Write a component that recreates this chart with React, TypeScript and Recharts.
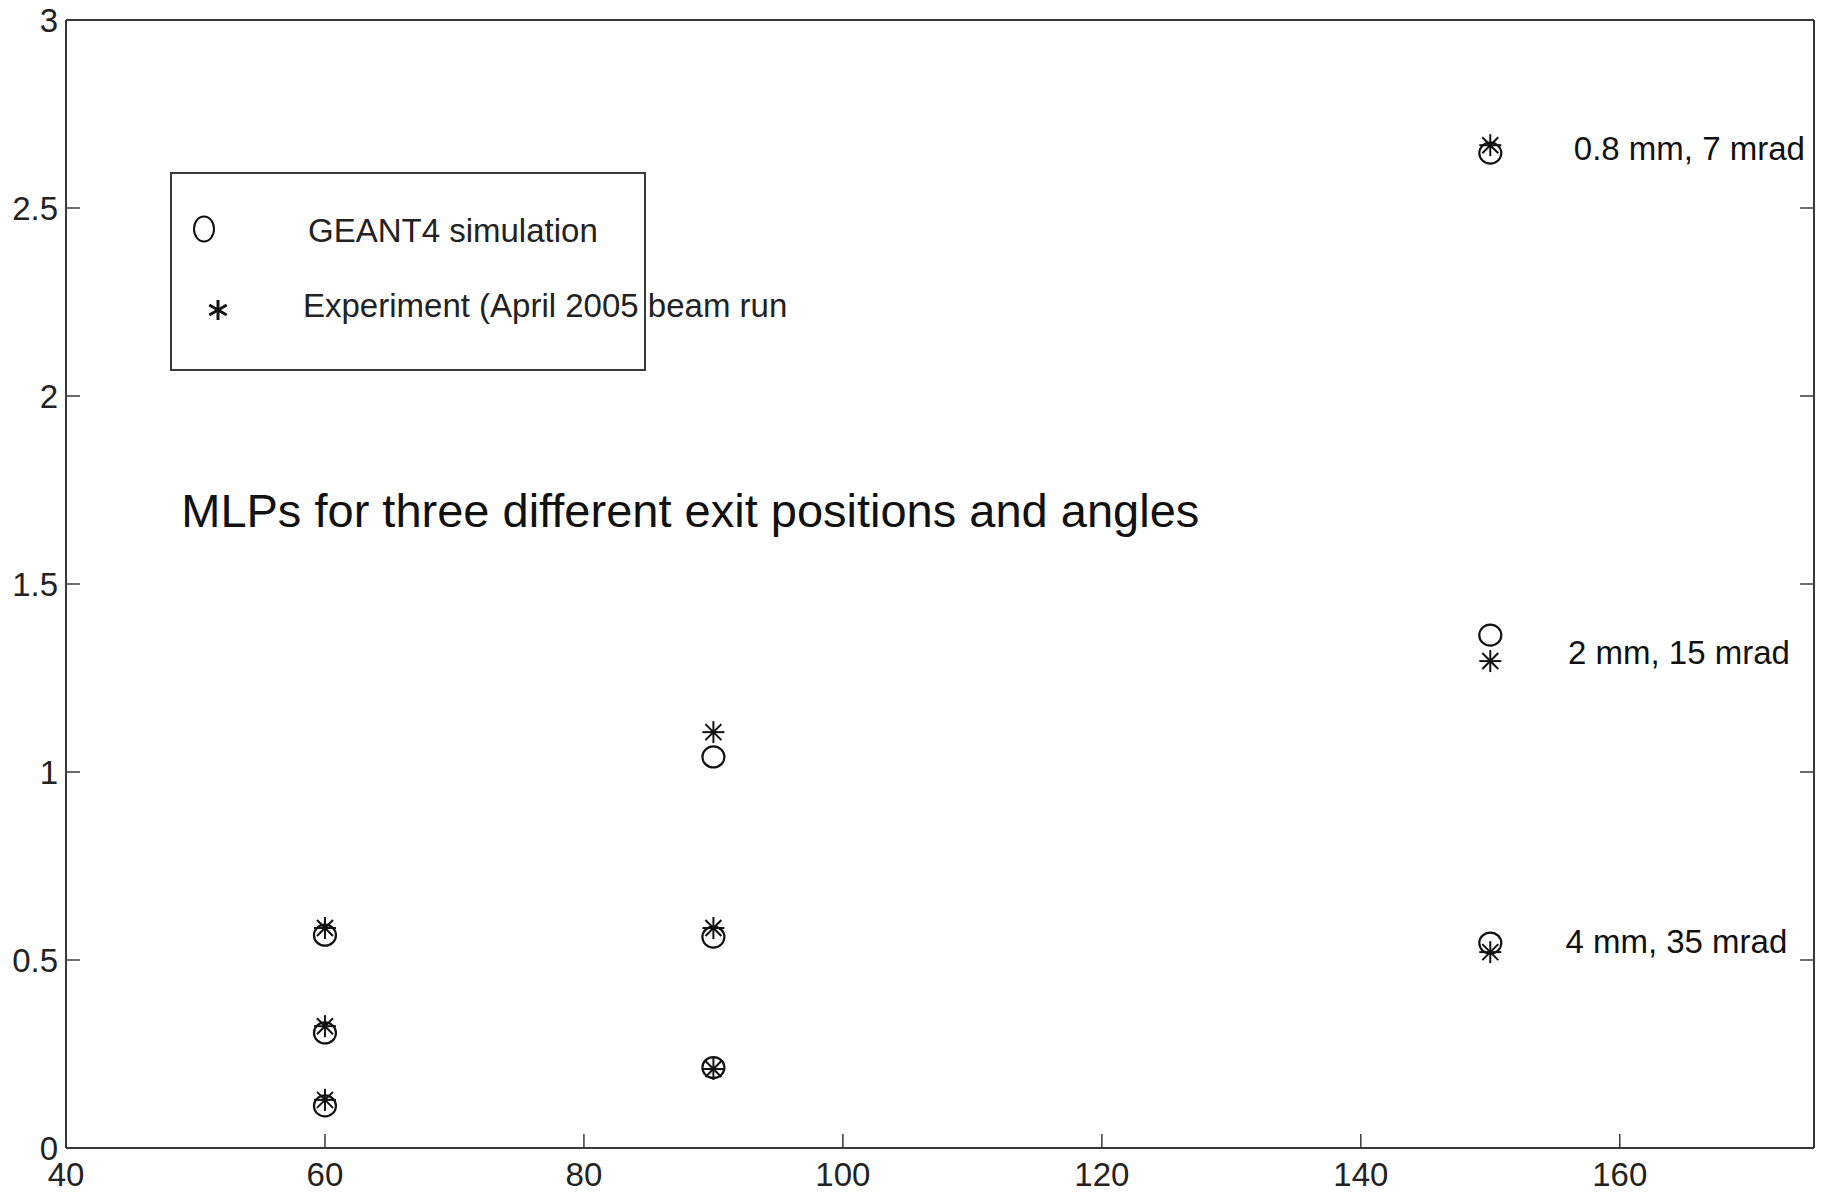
import { ScatterChart, Scatter, XAxis, YAxis, ReferenceDot, Legend } from "recharts";

const FONT = "'Liberation Sans', Arial, Helvetica, sans-serif";
const INK = "#111111";
const AXIS = "#3a3a3a";
const LABEL = "#222222";
const TICK_FONT = 33;
const TICK_LEN = 14;
const X_GAP = 14;
const Y_GAP = 8;

const xTicks = [40, 60, 80, 100, 120, 140, 160];
const yTicks = [0, 0.5, 1, 1.5, 2, 2.5, 3];

// depth positions and MLP values
const depths = [60, 60, 60, 90, 90, 90, 150, 150, 150];
const geantMlp = [0.566, 0.306, 0.112, 1.04, 0.561, 0.214, 2.646, 1.364, 0.545];
const experimentMlp = [0.585, 0.324, 0.128, 1.106, 0.585, 0.21, 2.667, 1.295, 0.521];

const seriesNames = ["GEANT4 simulation", "Experiment (April 2005 beam run"];

const title = "MLPs for three different exit positions and angles";
const titleAnchor = { x: 48.9, y: 1.695 };

const caseLabels = ["0.8 mm, 7 mrad", "2 mm, 15 mrad", "4 mm, 35 mrad"];
const caseLabelX = [156.45, 156.0, 155.8];
const caseLabelY = [2.657, 1.319, 0.548];

const simData = depths.map((x, i) => ({ x, y: geantMlp[i] }));
const expData = depths.map((x, i) => ({ x, y: experimentMlp[i] }));

function CircleMark(props: any) {
  const { cx, cy } = props;
  if (cx == null || cy == null) return null;
  return <ellipse cx={cx} cy={cy} rx={11} ry={10.5} fill="none" stroke={INK} strokeWidth={2.2} />;
}

function StarMark(props: any) {
  const { cx, cy } = props;
  if (cx == null || cy == null) return null;
  const s = 11;
  const d = 8;
  return (
    <g stroke={INK} strokeWidth={2}>
      <line x1={cx - s} y1={cy} x2={cx + s} y2={cy} />
      <line x1={cx} y1={cy - s} x2={cx} y2={cy + s} />
      <line x1={cx - d} y1={cy - d} x2={cx + d} y2={cy + d} />
      <line x1={cx - d} y1={cy + d} x2={cx + d} y2={cy - d} />
    </g>
  );
}

// inward tick marks (matlab style) drawn together with the labels
function BottomTick(props: any) {
  const { x, y, payload } = props;
  const edge = y - X_GAP;
  return (
    <g>
      <line x1={x} y1={edge} x2={x} y2={edge - TICK_LEN} stroke={AXIS} strokeWidth={1.5} />
      <text x={x} y={y} dy={TICK_FONT * 0.716} textAnchor="middle" fontSize={TICK_FONT} fontFamily={FONT} fill={LABEL}>
        {String(payload.value)}
      </text>
    </g>
  );
}

function LeftTick(props: any) {
  const { x, y, payload } = props;
  const edge = x + Y_GAP;
  return (
    <g>
      <line x1={edge} y1={y} x2={edge + TICK_LEN} y2={y} stroke={AXIS} strokeWidth={1.5} />
      <text x={x} y={y} dy={TICK_FONT * 0.358} textAnchor="end" fontSize={TICK_FONT} fontFamily={FONT} fill={LABEL}>
        {String(payload.value)}
      </text>
    </g>
  );
}

function TopTick(props: any) {
  const { x, y } = props;
  return <line x1={x} y1={y} x2={x} y2={y + TICK_LEN} stroke={AXIS} strokeWidth={1.5} />;
}

function RightTick(props: any) {
  const { x, y } = props;
  return <line x1={x} y1={y} x2={x - TICK_LEN} y2={y} stroke={AXIS} strokeWidth={1.5} />;
}

function textShape(text: string, size: number) {
  return (p: any) => (
    <text
      x={p.cx}
      y={p.cy}
      fontSize={size}
      fontFamily={FONT}
      fill={INK}
      textAnchor="start"
      dominantBaseline="central"
    >
      {text}
    </text>
  );
}

function LegendBox() {
  const r = 10;
  return (
    <svg width={476} height={199} style={{ overflow: "visible", display: "block" }}>
      <rect x={1} y={1} width={474} height={197} fill="#fff" stroke={AXIS} strokeWidth={2} />
      <ellipse cx={34} cy={57} rx={10} ry={12.5} fill="none" stroke={INK} strokeWidth={2} />
      <text x={138} y={58} fontSize={33} fontFamily={FONT} fill={LABEL} dominantBaseline="central">
        {seriesNames[0]}
      </text>
      <g stroke={INK} strokeWidth={3}>
        <line x1={48} y1={138 - r} x2={48} y2={138 + r} />
        <line x1={48 - r * 0.87} y1={138 - r * 0.5} x2={48 + r * 0.87} y2={138 + r * 0.5} />
        <line x1={48 - r * 0.87} y1={138 + r * 0.5} x2={48 + r * 0.87} y2={138 - r * 0.5} />
      </g>
      <text x={133} y={133} fontSize={33} fontFamily={FONT} fill={LABEL} dominantBaseline="central">
        {seriesNames[1]}
      </text>
    </svg>
  );
}

const axisLine = { stroke: AXIS, strokeWidth: 2 };

export default function App() {
  return (
    <div style={{ position: "absolute", left: 0, top: 0, background: "#fff" }}>
      <ScatterChart width={1828} height={1193} margin={{ top: 19, right: 13, bottom: 0, left: 0 }}>
        <XAxis
          dataKey="x"
          type="number"
          domain={[40, 175]}
          ticks={xTicks}
          interval={0}
          height={45}
          tickSize={0}
          tickMargin={X_GAP}
          tick={BottomTick}
          tickLine={false}
          axisLine={axisLine}
          allowDataOverflow
        />
        <XAxis
          xAxisId="top"
          orientation="top"
          type="number"
          domain={[40, 175]}
          ticks={xTicks}
          interval={0}
          height={1}
          tickSize={0}
          tickMargin={0}
          tick={TopTick}
          tickLine={false}
          axisLine={axisLine}
          allowDataOverflow
        />
        <YAxis
          dataKey="y"
          type="number"
          domain={[0, 3]}
          ticks={yTicks}
          interval={0}
          width={66}
          tickSize={0}
          tickMargin={Y_GAP}
          tick={LeftTick}
          tickLine={false}
          axisLine={axisLine}
          allowDataOverflow
        />
        <YAxis
          yAxisId="right"
          orientation="right"
          type="number"
          domain={[0, 3]}
          ticks={yTicks}
          interval={0}
          width={1}
          tickSize={0}
          tickMargin={0}
          tick={RightTick}
          tickLine={false}
          axisLine={axisLine}
          allowDataOverflow
        />
        <Legend
          layout="horizontal"
          verticalAlign="middle"
          align="center"
          wrapperStyle={{ left: 170, top: 172, width: 476, height: 199 }}
          content={() => <LegendBox />}
        />
        <Scatter name={seriesNames[0]} data={simData} shape={CircleMark} isAnimationActive={false} />
        <Scatter name={seriesNames[1]} data={expData} shape={StarMark} isAnimationActive={false} />
        <ReferenceDot
          x={titleAnchor.x}
          y={titleAnchor.y}
          r={0}
          ifOverflow="visible"
          shape={textShape(title, 47)}
        />
        {caseLabels.map((t, i) => (
          <ReferenceDot
            key={t}
            x={caseLabelX[i]}
            y={caseLabelY[i]}
            r={0}
            ifOverflow="visible"
            shape={textShape(t, 33)}
          />
        ))}
      </ScatterChart>
    </div>
  );
}
